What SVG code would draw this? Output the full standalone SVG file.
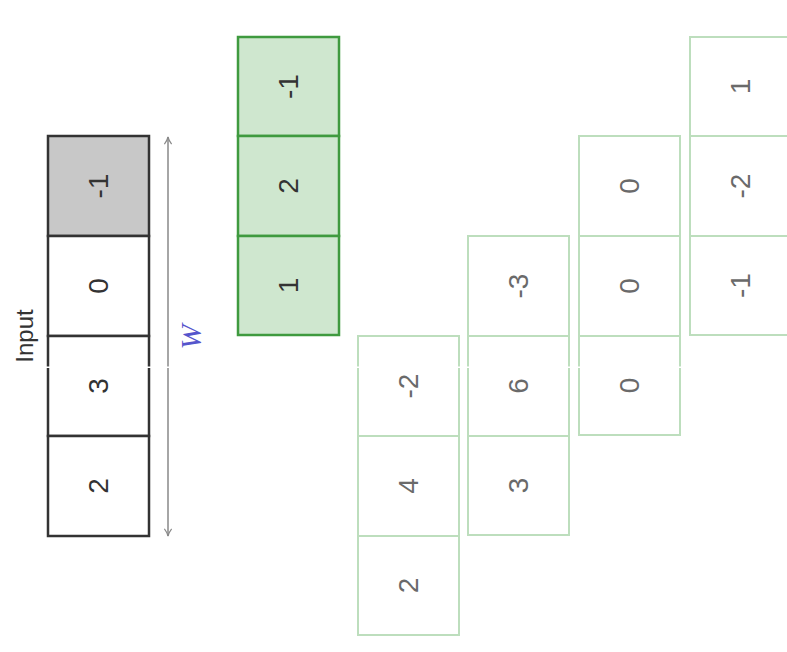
<svg xmlns="http://www.w3.org/2000/svg" width="787" height="652" viewBox="0 0 787 652">
<defs>
<style>
.num{font-family:"Liberation Sans","DejaVu Sans",sans-serif;font-size:28px;text-anchor:middle;dominant-baseline:central}
.in rect{stroke:#333;stroke-width:2.5;fill:#fff}
.in .g{fill:#c8c8c8}
.in text{fill:#333}
.k rect{stroke:#3f9a3f;stroke-width:2.5;fill:#cfe7cf}
.k text{fill:#333}
.o rect{stroke:#bddebd;stroke-width:2;fill:#fff}
.o text{fill:#6a6a6a}
</style>
<marker id="ah" viewBox="0 0 10 10" refX="9" refY="5" markerWidth="9" markerHeight="9" orient="auto-start-reverse" markerUnits="userSpaceOnUse">
<path d="M1,1 Q5,4 9,5 Q5,6 1,9" fill="none" stroke="#888" stroke-width="1.3"/>
</marker>
</defs>
<rect width="787" height="652" fill="#fff"/>

<g id="input" class="in">
<rect x="48" y="136" width="101" height="100" class="g"/>
<rect x="48" y="236" width="101" height="100"/>
<rect x="48" y="336" width="101" height="100"/>
<rect x="48" y="436" width="101" height="100"/>
<text class="num" transform="translate(98.5,186) rotate(-90)">-1</text>
<text class="num" transform="translate(98.5,286) rotate(-90)">0</text>
<text class="num" transform="translate(98.5,386) rotate(-90)">3</text>
<text class="num" transform="translate(98.5,486) rotate(-90)">2</text>
</g>
<g id="input-label">
<text transform="translate(24,336) rotate(-90)" style="font-family:'Liberation Sans','DejaVu Sans',sans-serif;font-size:24px;fill:#333;text-anchor:middle;dominant-baseline:central">Input</text>
</g>

<g id="connectors">
<line x1="168" y1="137" x2="168" y2="536" stroke="#888" stroke-width="1.5" marker-start="url(#ah)" marker-end="url(#ah)"/>
</g>
<g id="w-label">
<text transform="translate(190,337) rotate(-90)" style="font-family:'Liberation Serif',serif;font-style:italic;font-size:30px;fill:#5555cc;text-anchor:middle;dominant-baseline:central">W</text>
</g>

<g id="kernel" class="k">
<rect x="238" y="37" width="101" height="99"/>
<rect x="238" y="136" width="101" height="100"/>
<rect x="238" y="236" width="101" height="99"/>
<text class="num" transform="translate(288.5,86.5) rotate(-90)">-1</text>
<text class="num" transform="translate(288.5,186) rotate(-90)">2</text>
<text class="num" transform="translate(288.5,285.5) rotate(-90)">1</text>
</g>

<g id="out1" class="o">
<rect x="358" y="336" width="101" height="100"/>
<rect x="358" y="436" width="101" height="100"/>
<rect x="358" y="536" width="101" height="99"/>
<text class="num" transform="translate(408.5,386) rotate(-90)">-2</text>
<text class="num" transform="translate(408.5,486) rotate(-90)">4</text>
<text class="num" transform="translate(408.5,585.5) rotate(-90)">2</text>
</g>
<g id="out2" class="o">
<rect x="468" y="236" width="101" height="100"/>
<rect x="468" y="336" width="101" height="100"/>
<rect x="468" y="436" width="101" height="99"/>
<text class="num" transform="translate(518.5,286) rotate(-90)">-3</text>
<text class="num" transform="translate(518.5,386) rotate(-90)">6</text>
<text class="num" transform="translate(518.5,485.5) rotate(-90)">3</text>
</g>
<g id="out3" class="o">
<rect x="579" y="136" width="101" height="100"/>
<rect x="579" y="236" width="101" height="100"/>
<rect x="579" y="336" width="101" height="99"/>
<text class="num" transform="translate(629.5,186) rotate(-90)">0</text>
<text class="num" transform="translate(629.5,286) rotate(-90)">0</text>
<text class="num" transform="translate(629.5,385.5) rotate(-90)">0</text>
</g>
<g id="out4" class="o">
<rect x="690" y="37" width="101" height="99"/>
<rect x="690" y="136" width="101" height="100"/>
<rect x="690" y="236" width="101" height="99"/>
<text class="num" transform="translate(740.5,86.5) rotate(-90)">1</text>
<text class="num" transform="translate(740.5,186) rotate(-90)">-2</text>
<text class="num" transform="translate(740.5,285.5) rotate(-90)">-1</text>
</g>

<rect x="0" y="366.5" width="787" height="1.5" fill="#fff"/>
</svg>
